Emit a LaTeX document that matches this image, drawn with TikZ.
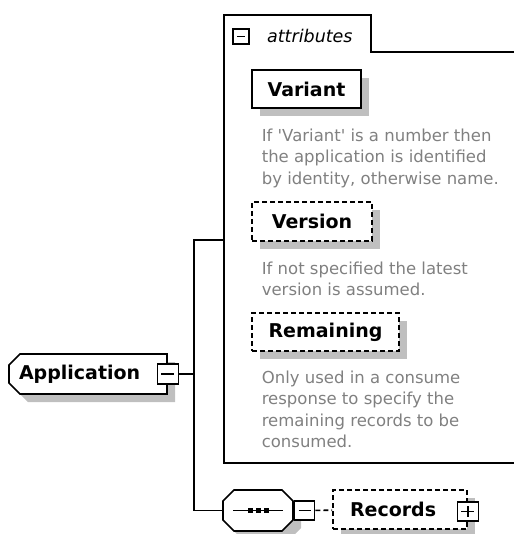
\documentclass[tikz,border=0pt]{standalone}
\usepackage{fontspec}
\setmainfont{DejaVu Sans}
\usetikzlibrary{positioning}
\usetikzlibrary{calc}
\usetikzlibrary{shapes.misc}
\usetikzlibrary{shadows}

\begin{document}
\begin{tikzpicture}[x=1pt,y=-1pt,line width=1.6pt]
	\tikzstyle{elem} = [draw,fill=white,inner sep=0pt,font=\fontsize{19}{22}\selectfont\bfseries,drop shadow={shadow xshift=8pt,shadow yshift=-8pt,fill=black!25,opacity=1}]
	\tikzstyle{opt} = [elem,dash pattern=on 5pt off 3pt]
	\tikzstyle{info} = [anchor=north west,align=left,inner sep=0pt,text=black!50,font=\fontsize{16.5}{21.5}\selectfont]
	\tikzstyle{ctrl} = [draw,fill=white,minimum width=20pt,minimum height=19pt,inner sep=0pt]
	\tikzstyle{minus} = [ctrl,path picture={\draw ([xshift=4pt]path picture bounding box.west) -- ([xshift=-4pt]path picture bounding box.east);}]
	\tikzstyle{plus} = [ctrl,path picture={\draw ([xshift=4pt]path picture bounding box.west) -- ([xshift=-4pt]path picture bounding box.east);
		\draw ([yshift=-4pt]path picture bounding box.north) -- ([yshift=4pt]path picture bounding box.south);}]
	\tikzstyle{link} = [dash pattern=on 5pt off 3pt]

	\useasboundingbox (0,0) rectangle (513,534);

	% attribute group
	\draw (514,52) -- (371,52) -- (371,15) -- (224,15) -- (224,463) -- (514,463);
	\node[minus,minimum width=16pt,minimum height=15pt] at (241,36.5) (atog) {};
	\node[anchor=west,font=\fontsize{17.5}{20}\selectfont\itshape] at (263,36) (atab) {attributes};

	\node[elem,minimum width=109pt,minimum height=38pt] at (306.5,89) (variant) {Variant};
	\node[info] at (261,128) (variantinfo) {If \textquotesingle Variant\textquotesingle{} is a number then\\the application is identified\\by identity, otherwise name.};
	\node[opt,minimum width=120pt,minimum height=39pt] at (312,221.5) (version) {Version};
	\node[info] at (261,261) (versioninfo) {If not specified the latest\\version is assumed.};
	\node[opt,minimum width=147pt,minimum height=38pt] at (325.5,332) (remaining) {Remaining};
	\node[info] at (261,370) (remaininginfo) {Only used in a consume\\response to specify the\\remaining records to be\\consumed.};

	% element
	\node[elem,chamfered rectangle,chamfered rectangle corners={north west,south west},chamfered rectangle xsep=5pt,chamfered rectangle ysep=6pt,minimum width=158pt,minimum height=40pt] at (88,374) (app) {\makebox[138pt][l]{Application}};
	\node[minus,minimum width=21pt,minimum height=20pt] at (app.east) (appx) {};

	% sequence
	\fill[black!25,shift={(8,8)}] (234,490) -- (282,490) -- (293,501) -- (293,520) -- (282,531) -- (234,531) -- (223,520) -- (223,501) -- cycle;
	\filldraw[fill=white] (234,490) -- (282,490) -- (293,501) -- (293,520) -- (282,531) -- (234,531) -- (223,520) -- (223,501) -- cycle;
	\node[minimum width=70pt,minimum height=41pt,inner sep=0pt] at (258,510.5) (seq) {};
	\draw ([xshift=-25pt]seq.center) -- ([xshift=25pt]seq.center);
	\foreach \d in {-8,0,8}
		\fill ([xshift=\d pt]seq.center) ++(-2.5,-2.5) rectangle ++(5,5);
	\node[minus,anchor=west] at (seq.east) (seqx) {};

	\node[opt,minimum width=134pt,minimum height=39pt] at (400,509.5) (rec) {\makebox[100pt][l]{Records}};
	\node[plus,minimum width=21pt] at ([yshift=-2pt]rec.east) (recx) {};

	\coordinate (ctop) at (194,240);
	\coordinate (aw) at (224,240);
	\draw (appx.east) -- (appx.east -| ctop);
	\draw (aw) -- (ctop) -- (ctop |- seq.west) -- (seq.west);
	\begin{scope}[link]
		\draw (seqx) -- (rec);
	\end{scope}
\end{tikzpicture}
\end{document}
